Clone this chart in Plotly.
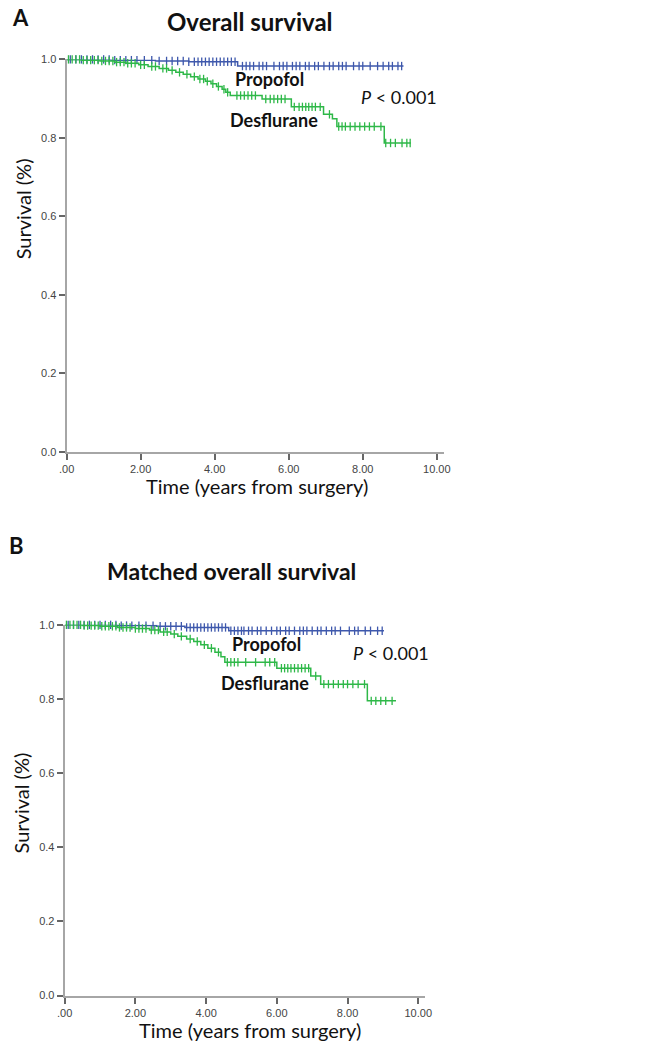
import plotly.graph_objects as go

W, H = 647, 1049

# ---------------- DATA ----------------
x_tick_vals = [0, 2, 4, 6, 8, 10]
x_tick_text = [".00", "2.00", "4.00", "6.00", "8.00", "10.00"]
y_tick_vals = [0.0, 0.2, 0.4, 0.6, 0.8, 1.0]
y_tick_text = ["0.0", "0.2", "0.4", "0.6", "0.8", "1.0"]

# Panel A - Overall survival
a_prop_t = [0, 1.2, 2.4, 3.3, 4.62]
a_prop_s = [1.0, 0.998, 0.996, 0.994, 0.983]
a_prop_end = 9.1
a_prop_cens = [0.1, 0.25, 0.4, 0.55, 0.7, 0.85, 1.0, 1.15, 1.3, 1.45, 1.6, 1.75, 1.9, 2.1, 2.3,
               2.5, 2.7, 2.85, 3.0, 3.15, 3.3, 3.45, 3.55, 3.65, 3.75, 3.85, 3.95, 4.05, 4.15,
               4.25, 4.35, 4.45, 4.55, 4.75, 4.85, 4.95, 5.05, 5.2, 5.3, 5.4, 5.6, 5.75, 5.85,
               5.95, 6.1, 6.2, 6.3, 6.45, 6.55, 6.7, 6.8, 6.95, 7.1, 7.2, 7.35, 7.45, 7.55,
               7.75, 7.9, 8.0, 8.2, 8.4, 8.55, 8.7, 8.8, 8.95, 9.05]

a_des_t = [0, 0.4, 0.9, 1.3, 1.6, 1.95, 2.2, 2.5, 2.75, 2.95, 3.15, 3.35, 3.55, 3.75, 3.9,
           4.05, 4.2, 4.3, 4.42, 5.28, 6.07, 6.94, 7.18, 7.3, 8.58]
a_des_s = [1.0, 0.998, 0.996, 0.993, 0.99, 0.986, 0.982, 0.977, 0.972, 0.967, 0.962, 0.956,
           0.950, 0.944, 0.938, 0.931, 0.924, 0.916, 0.908, 0.899, 0.879, 0.86, 0.849, 0.829,
           0.787]
a_des_end = 9.3
a_des_cens = [0.05, 0.15, 0.25, 0.35, 0.45, 0.55, 0.65, 0.75, 0.85, 0.95, 1.05, 1.15, 1.25,
              1.35, 1.45, 1.55, 1.65, 1.75, 1.85, 2.0, 2.1, 2.3, 2.4, 2.6, 2.7, 2.85, 3.05,
              3.25, 3.45, 3.6, 3.7, 3.8, 3.95, 4.1, 4.25, 4.35, 4.6, 4.7, 4.8, 4.9, 5.0, 5.1,
              5.38, 5.5, 5.6, 5.7, 5.8, 5.9, 6.15, 6.28, 6.37, 6.46, 6.54, 6.63, 6.72, 6.85,
              7.1, 7.35, 7.44, 7.53, 7.66, 7.79, 7.92, 8.05, 8.18, 8.31, 8.49, 8.62, 8.75,
              8.88, 9.06, 9.19, 9.28]

# Panel B - Matched overall survival
b_prop_t = [0, 1.5, 2.6, 3.4, 4.64]
b_prop_s = [1.0, 0.998, 0.996, 0.993, 0.984]
b_prop_end = 9.03
b_prop_cens = [0.1, 0.25, 0.4, 0.55, 0.7, 0.85, 1.0, 1.15, 1.3, 1.45, 1.6, 1.75, 1.9, 2.1, 2.3,
               2.5, 2.7, 2.85, 3.0, 3.15, 3.3, 3.45, 3.55, 3.65, 3.75, 3.85, 3.95, 4.05, 4.15,
               4.25, 4.35, 4.45, 4.55, 4.7, 4.8, 4.9, 5.0, 5.07, 5.2, 5.3, 5.45, 5.55, 5.7,
               5.85, 6.0, 6.1, 6.25, 6.35, 6.5, 6.65, 6.75, 6.85, 7.0, 7.15, 7.25, 7.4, 7.55,
               7.65, 7.8, 8.05, 8.2, 8.3, 8.5, 8.65, 8.85, 8.98]

b_des_t = [0, 0.5, 1.0, 1.5, 2.0, 2.4, 2.7, 3.0, 3.2, 3.45, 3.65, 3.85, 4.05, 4.25, 4.42,
           4.53, 6.0, 6.96, 7.24, 8.56]
b_des_s = [1.0, 0.998, 0.996, 0.993, 0.99, 0.986, 0.981, 0.975, 0.969, 0.962, 0.955, 0.946,
           0.937, 0.926, 0.914, 0.899, 0.883, 0.862, 0.84, 0.795]
b_des_end = 9.37
b_des_cens = [0.05, 0.15, 0.25, 0.35, 0.45, 0.55, 0.65, 0.75, 0.85, 0.95, 1.05, 1.15, 1.25,
              1.35, 1.45, 1.55, 1.65, 1.75, 1.85, 2.0, 2.1, 2.2, 2.3, 2.45, 2.55, 2.65, 2.8,
              2.9, 3.1, 3.3, 3.55, 3.75, 3.95, 4.15, 4.35, 4.6, 4.7, 4.8, 4.9, 5.12, 5.4,
              5.67, 5.8, 5.94, 6.13, 6.22, 6.31, 6.4, 6.5, 6.6, 6.7, 6.8, 6.9, 7.1, 7.33, 7.46,
              7.6, 7.74, 7.88, 8.0, 8.15, 8.3, 8.48, 8.67, 8.8, 8.94, 9.08, 9.26]

BLUE = "#3E58AC"
GREEN = "#2EB848"
AXIS = "#a6a6a6"


def step_value(ts, ss, t):
    v = ss[0]
    for ti, si in zip(ts, ss):
        if ti <= t:
            v = si
    return v


def add_km(fig, ts, ss, end, cens, color, xa, ya):
    fig.add_trace(go.Scatter(
        x=ts + [end], y=ss + [ss[-1]], mode="lines", line=dict(color=color, width=1.5, shape="hv"),
        xaxis=xa, yaxis=ya, showlegend=False, hoverinfo="skip", cliponaxis=False))
    fig.add_trace(go.Scatter(
        x=cens, y=[step_value(ts, ss, c) for c in cens], mode="markers",
        marker=dict(symbol="line-ns", size=6, line=dict(color=color, width=1.3)),
        xaxis=xa, yaxis=ya, showlegend=False, hoverinfo="skip", cliponaxis=False))


fig = go.Figure()
add_km(fig, a_prop_t, a_prop_s, a_prop_end, a_prop_cens, BLUE, "x", "y")
add_km(fig, a_des_t, a_des_s, a_des_end, a_des_cens, GREEN, "x", "y")
add_km(fig, b_prop_t, b_prop_s, b_prop_end, b_prop_cens, BLUE, "x2", "y2")
add_km(fig, b_des_t, b_des_s, b_des_end, b_des_cens, GREEN, "x2", "y2")


def px(x):
    return x / W


def py(y):
    return 1 - y / H


common_x = dict(range=[0, 10.2], tickvals=x_tick_vals, ticktext=x_tick_text, showgrid=False,
                zeroline=False, showline=True, linecolor=AXIS, linewidth=2, ticks="outside",
                ticklen=6, tickwidth=1.5, tickcolor="#666",
                tickfont=dict(family="Liberation Sans, Arial", size=11, color="#444"))
common_y = dict(range=[0, 1.0], tickvals=y_tick_vals, ticktext=y_tick_text, showgrid=False,
                zeroline=False, showline=True, linecolor=AXIS, linewidth=2, ticks="outside",
                ticklen=6, tickwidth=1.5, tickcolor="#666",
                tickfont=dict(family="Liberation Sans, Arial", size=11, color="#444"))

fig.update_layout(
    width=W, height=H, autosize=False,
    margin=dict(l=0, r=0, t=0, b=0),
    paper_bgcolor="white", plot_bgcolor="white",
    xaxis=dict(domain=[px(60), px(60 + 10.2 * 37.9)], anchor="y", **common_x),
    yaxis=dict(domain=[py(451), py(54)], anchor="x", **common_y),
    xaxis2=dict(domain=[px(58), px(58 + 10.2 * 36.2)], anchor="y2", **common_x),
    yaxis2=dict(domain=[py(1001), py(626)], anchor="x2", **common_y),
)

LBL = "Lato, Open Sans, sans-serif"


def ann(text, x, y, size, bold=False, angle=0, xanchor="center"):
    fig.add_annotation(text=f"<b>{text}</b>" if bold else text, x=px(x), y=py(y), xref="paper",
                       yref="paper", showarrow=False, xanchor=xanchor, yanchor="middle",
                       textangle=angle, font=dict(family=LBL, size=size, color="#111"))


# Panel A texts
ann("A", 13, 12, 22, bold=True)
ann("Overall survival", 248, 16, 24, bold=True)
ann("Survival (%)", 15, 205, 20, angle=-90)
ann("Time (years from surgery)", 255, 486, 20)
ann("Propofol", 268, 74, 18, bold=True)
ann("Desflurane", 272, 115, 18, bold=True)
ann("<i>P</i> < 0.001", 400, 92, 18)

# Panel B texts
ann("B", 9, 546, 22, bold=True)
ann("Matched overall survival", 229, 572, 23, bold=True)
ann("Survival (%)", 13, 806, 20, angle=-90)
ann("Time (years from surgery)", 248, 1036, 20)
ann("Propofol", 265, 645, 18, bold=True)
ann("Desflurane", 263, 685, 18, bold=True)
ann("<i>P</i> < 0.001", 392, 654, 18)

fig.write_html("out.html", config={"displayModeBar": False},
               post_script="document.body.style.margin='0';document.body.style.overflow='hidden';")
